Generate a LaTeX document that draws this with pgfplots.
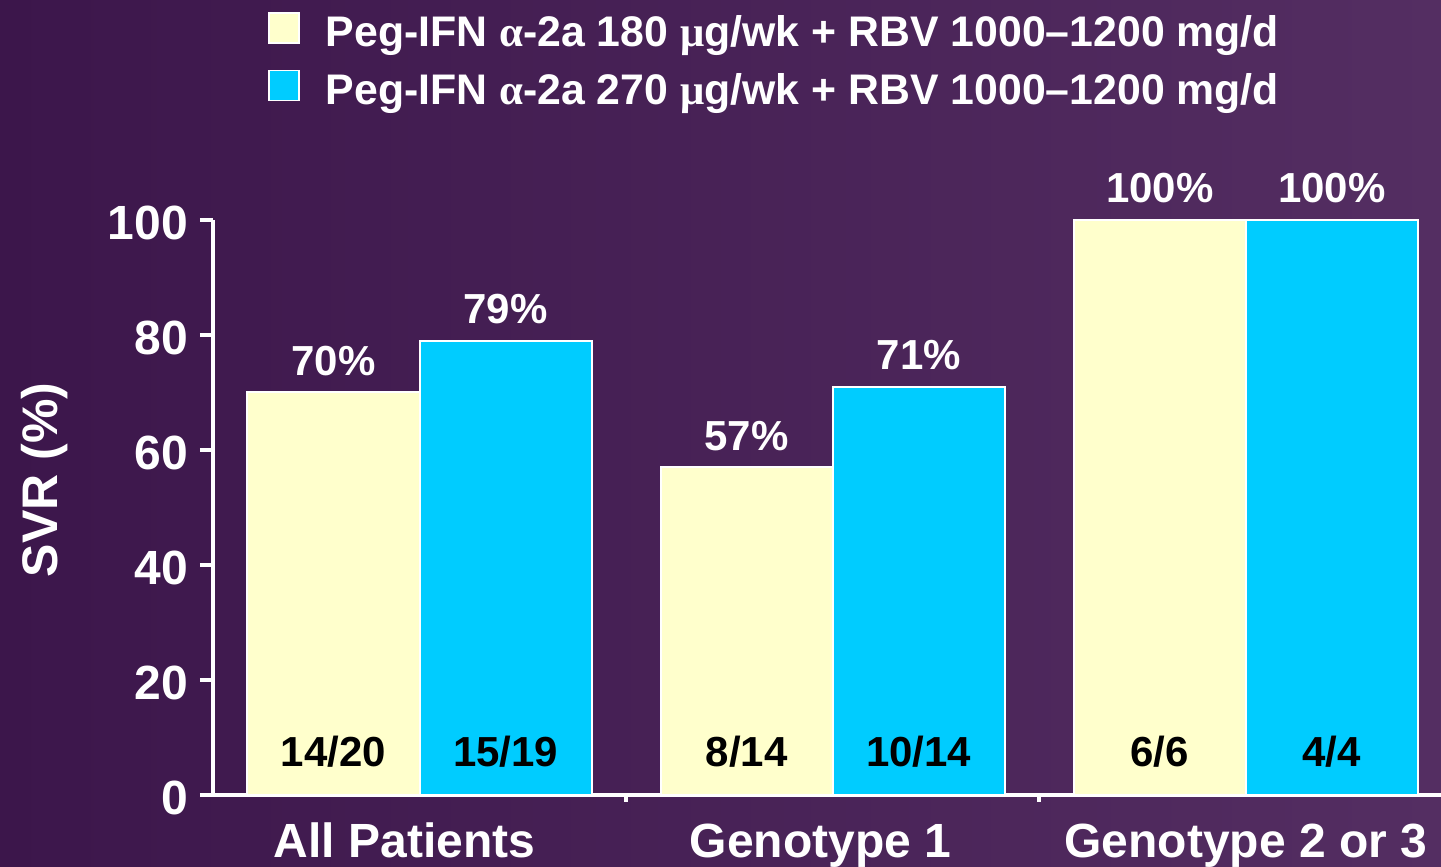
\documentclass[border=0pt]{standalone}
\usepackage{pgfplots}
\pgfplotsset{compat=1.18}
\usepackage{fontspec}
\setmainfont{Liberation Sans}
\newfontfamily\symfont{Liberation Serif}
\definecolor{bgL}{RGB}{60,22,75}
\definecolor{bgR}{RGB}{84,46,98}
\definecolor{barY}{RGB}{255,255,204}
\definecolor{barC}{RGB}{0,204,255}
\begin{document}
\begin{tikzpicture}
\shade[use as bounding box, left color=bgL, right color=bgR] (0,0) rectangle (720.5pt,433.5pt);
\begin{axis}[
  at={(106.5pt,36pt)}, anchor=south west,
  scale only axis, width=614pt, height=287.5pt,
  xmin=-0.5, xmax=2.4726, ymin=0, ymax=100,
  axis x line*=bottom, axis y line*=left,
  axis line style={white, line width=2pt, -},
  every tick/.style={white, line width=2pt},
  tick align=outside, major tick length=6.5pt,
  ytick={0,20,40,60,80,100},
  xtick={0.5,1.5}, xticklabels={},
  xtick style={/pgfplots/major tick length=3.5pt},
  extra x ticks={0,1,2},
  extra x tick labels={All Patients\hspace*{15pt},Genotype 1\hspace*{12pt},Genotype 2 or 3},
  extra x tick style={major tick length=0pt, xtick style={draw=none}, tick style={draw=none}, xticklabel style={anchor=base, yshift=-31.5pt}},
  /pgf/number format/assume math mode=true,
  tick label style={font=\bfseries\fontsize{24}{28}\selectfont, text=white},
  yticklabel style={xshift=-2.5pt, yshift=-1.5pt},
  ylabel={SVR (\%)},
  every axis y label/.style={at={(axis description cs:-0.137,0.548)}, rotate=90, anchor=center, font=\bfseries\fontsize{25}{30}\selectfont, text=white},
  clip=false,
  legend style={at={(axis description cs:0.0448,1.3617)}, anchor=north west, draw=none, fill=none, text=white,
    font=\bfseries\fontsize{21.4}{25}\selectfont, inner sep=0pt, outer sep=0pt, row sep=10pt, nodes={inner sep=0pt}},
  legend cell align=left,
  legend image code/.code={\draw[#1, line width=0.75pt] (0pt,-5pt) rectangle (15pt,10pt); \path (28pt,0pt);},
  nodes near coords={\pgfmathprintnumber{\pgfplotspointmeta}\%},
  every node near coord/.style={anchor=base, yshift=8.5pt, font=\bfseries\fontsize{21}{25}\selectfont, text=white, inner sep=0pt},
]
\addplot[ybar, bar shift=0pt, bar width=0.4165, fill=barY, draw=white, line width=1pt, point meta=y]
  coordinates {(-0.2083,70) (0.7917,57) (1.7917,100)};
\addlegendentry{Peg-IFN {\symfont α}-2a 180 {\symfont μ}g/wk + RBV 1000–1200 mg/d}
\addplot[ybar, bar shift=0pt, bar width=0.4165, fill=barC, draw=white, line width=1pt, point meta=y]
  coordinates {(0.2083,79) (1.2083,71) (2.2083,100)};
\addlegendentry{Peg-IFN {\symfont α}-2a 270 {\symfont μ}g/wk + RBV 1000–1200 mg/d}
\begin{scope}[every node/.style={anchor=base, font=\bfseries\fontsize{21}{25}\selectfont, text=black}]
\node at (axis cs:-0.2083,5) {14/20};
\node at (axis cs:0.2083,5) {15/19};
\node at (axis cs:0.7917,5) {8/14};
\node at (axis cs:1.2083,5) {10/14};
\node at (axis cs:1.7917,5) {6/6};
\node at (axis cs:2.2083,5) {4/4};
\end{scope}
\end{axis}
\end{tikzpicture}
\end{document}
